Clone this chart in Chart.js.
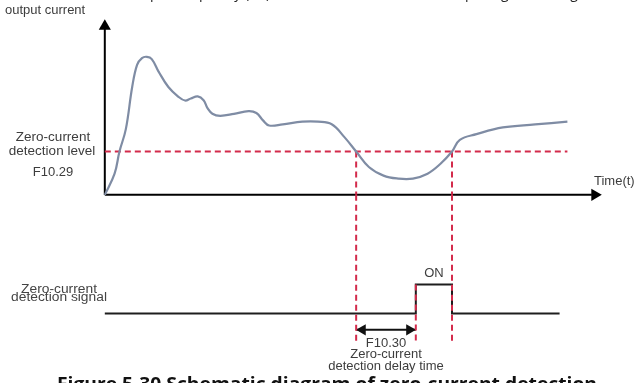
<!DOCTYPE html>
<html>
<head>
<meta charset="utf-8">
<script src="https://cdn.jsdelivr.net/npm/chart.js@4.4.3/dist/chart.umd.min.js"></script>
<style>
  html, body { margin: 0; padding: 0; background: #fff; }
  canvas { display: block; }
</style>
</head>
<body>
<canvas id="zero-current-chart" width="637" height="383"></canvas>
<script>
// output current curve (time units / current units)
const curveTime = [
  0, 2, 3, 4.3, 5.6, 6.6, 7.6, 8.6, 9.6, 11, 13, 15, 16.4, 17.6, 19, 20.2,
  21, 22, 23.6, 26.4, 29.4, 31, 32.4, 33.6, 36.4, 40.4, 43.6, 46.4, 49, 51.4,
  54, 57, 60, 63, 66, 68.6, 71, 72.6, 76, 81.4, 88, 94.6,
];
const curveCurrent = [
  0, 12.2, 25, 37.9, 62.2, 75, 78.9, 79.6, 78.3, 71.1, 62.2, 56.7, 54.4, 55.6, 56.8, 54.6,
  50, 46.8, 45.6, 46.7, 48.3, 47.2, 42.8, 40, 40.7, 42.2, 42.2, 40.7, 33.3, 25,
  16.1, 11.1, 9.4, 9.4, 12.2, 17.8, 25, 31.7, 35, 38.9, 40.6, 42.2,
];

const detectionLevel = 25;          // F10.29
const crossingTimes = [51.4, 71];   // curve crosses the detection level
const delayEndTime = 63.6;          // end of F10.30 delay
const levelLineEnd = 94.6;

// zero-current detection signal (0 = off, 1 = ON)
const signalTime = [0, 63.6, 63.6, 71, 71, 93];
const signalLevel = [0, 0, 1, 1, 0, 0];

const markerBottom = -1;
const delayArrowLevel = -0.57;
const timeAxisEnd = 101.6;
const currentAxisEnd = 101.1;

const textColor = "#3d3d3d";
const redDash = "#d32b4b";
const curveColor = "#7f8ca4";

function pts(xs, ys) {
  return xs.map((x, i) => ({ x, y: ys[i] }));
}

function dashed(data, axis) {
  return {
    data,
    yAxisID: axis,
    borderColor: redDash,
    borderWidth: 2,
    borderDash: [6, 4],
    pointRadius: 0,
  };
}

const upperMarkerSets = crossingTimes.map((t) =>
  dashed([{ x: t, y: detectionLevel }, { x: t, y: 0 }], "y")
);
const lowerMarkerSets = crossingTimes.map((t) =>
  dashed([{ x: t, y: 4.1 }, { x: t, y: markerBottom }], "ys")
);

const textPlugin = {
  id: "diagramText",
  afterDraw(chart) {
    const { ctx } = chart;
    const xs = chart.scales.x;
    const ysig = chart.scales.ys;
    const yc = chart.scales.y;
    ctx.save();

    // cut-off line of the paragraph above the figure
    ctx.font = "14px 'Open Sans', sans-serif";
    ctx.textAlign = "left";
    ctx.textBaseline = "alphabetic";
    ctx.fillStyle = "#222";
    ctx.fillText("output frequency (Hz), which is the zero-current output signal, see figure", 128, -2);

    ctx.fillStyle = textColor;
    ctx.textBaseline = "middle";
    ctx.font = "13px 'Liberation Sans', Arial, sans-serif";
    ctx.fillText("output current", 5, 10);

    ctx.textAlign = "center";
    ctx.font = "13.5px 'Liberation Sans', Arial, sans-serif";
    const lvl = yc.getPixelForValue(detectionLevel);
    ctx.fillText("Zero-current", 53, lvl - 14);
    ctx.fillText("detection level", 52, lvl);
    ctx.font = "13px 'Liberation Sans', Arial, sans-serif";
    ctx.fillText("F10.29", 53, lvl + 21);

    ctx.textAlign = "left";
    ctx.fillText("Time(t)", 594, yc.getPixelForValue(0) - 13);

    // squashed label of the signal
    ctx.save();
    ctx.fillStyle = "#444";
    ctx.textBaseline = "alphabetic";
    ctx.textAlign = "center";
    ctx.translate(59, ysig.getPixelForValue(0));
    ctx.scale(1.15, 1);
    ctx.font = "12px 'Liberation Sans', Arial, sans-serif";
    ctx.fillText("Zero-current", 0, -20);
    ctx.fillText("detection signal", 0, -12);
    ctx.restore();

    ctx.textAlign = "center";
    ctx.textBaseline = "middle";
    ctx.font = "13px 'Liberation Sans', Arial, sans-serif";
    const onX = (xs.getPixelForValue(delayEndTime) + xs.getPixelForValue(crossingTimes[1])) / 2;
    ctx.fillText("ON", onX, ysig.getPixelForValue(1) - 11);

    const delayX = (xs.getPixelForValue(crossingTimes[0]) + xs.getPixelForValue(delayEndTime)) / 2;
    const arrowY = ysig.getPixelForValue(delayArrowLevel);
    ctx.fillText("F10.30", delayX, arrowY + 14);
    ctx.fillText("Zero-current", delayX, arrowY + 25);
    ctx.fillText("detection delay time", delayX, arrowY + 37);

    // figure caption, cut off by the bottom edge
    ctx.fillStyle = "#111";
    ctx.textAlign = "left";
    ctx.textBaseline = "top";
    ctx.font = "bold 18px 'Open Sans', sans-serif";
    const caption = "Figure 5-30 Schematic diagram of zero-current detection";
    const w = ctx.measureText(caption).width;
    ctx.save();
    ctx.translate(57, 376);
    ctx.scale(540 / w, 1);
    ctx.fillText(caption, 0, 0);
    ctx.restore();

    ctx.restore();
  },
};

new Chart(document.getElementById("zero-current-chart"), {
  type: "line",
  data: {
    datasets: [
      {
        label: "output current",
        data: pts(curveTime, curveCurrent),
        yAxisID: "y",
        borderColor: curveColor,
        borderWidth: 2.2,
        tension: 0.4,
        pointRadius: 0,
      },
      dashed([{ x: 0, y: detectionLevel }, { x: levelLineEnd, y: detectionLevel }], "y"),
      ...upperMarkerSets,
      ...lowerMarkerSets,
      dashed([{ x: delayEndTime, y: 1 }, { x: delayEndTime, y: markerBottom }], "ys"),
      {
        label: "signal",
        data: pts(signalTime, signalLevel),
        yAxisID: "ys",
        borderColor: "#1e1e1e",
        borderWidth: 2,
        tension: 0,
        pointRadius: 0,
      },
      {
        label: "current axis",
        data: [{ x: 0, y: 0 }, { x: 0, y: currentAxisEnd - 5 }],
        yAxisID: "y",
        borderColor: "#000",
        borderWidth: 2,
        pointRadius: 0,
      },
      {
        label: "time axis",
        data: [{ x: 0, y: 0 }, { x: timeAxisEnd - 2, y: 0 }],
        yAxisID: "y",
        borderColor: "#000",
        borderWidth: 2,
        pointRadius: 0,
      },
      {
        label: "axis arrows",
        data: [{ x: 0, y: currentAxisEnd - 3.9 }, { x: timeAxisEnd - 1.4, y: 0 }],
        yAxisID: "y",
        showLine: false,
        pointStyle: "triangle",
        pointRadius: 7,
        rotation: [0, 90],
        backgroundColor: "#000",
        borderColor: "#000",
        borderWidth: 0,
      },
      {
        label: "delay arrow",
        data: [{ x: crossingTimes[0], y: delayArrowLevel }, { x: delayEndTime, y: delayArrowLevel }],
        yAxisID: "ys",
        borderColor: "#111",
        borderWidth: 2,
        pointRadius: 0,
      },
      {
        label: "delay arrow heads",
        data: [{ x: crossingTimes[0] + 1.3, y: delayArrowLevel }, { x: delayEndTime - 1.3, y: delayArrowLevel }],
        yAxisID: "ys",
        showLine: false,
        pointStyle: "triangle",
        pointRadius: 6.5,
        rotation: [-90, 90],
        backgroundColor: "#111",
        borderColor: "#111",
        borderWidth: 0,
      },
    ],
  },
  options: {
    responsive: false,
    animation: false,
    events: [],
    layout: { padding: 0 },
    scales: {
      x: { type: "linear", min: -20, max: 107.4, display: false },
      y: { type: "linear", min: -104.44, max: 108.33, display: false },
      ys: { type: "linear", min: -2.1667, max: 10.6, display: false },
    },
    plugins: {
      legend: { display: false },
      tooltip: { enabled: false },
    },
  },
  plugins: [textPlugin],
});
</script>
</body>
</html>
